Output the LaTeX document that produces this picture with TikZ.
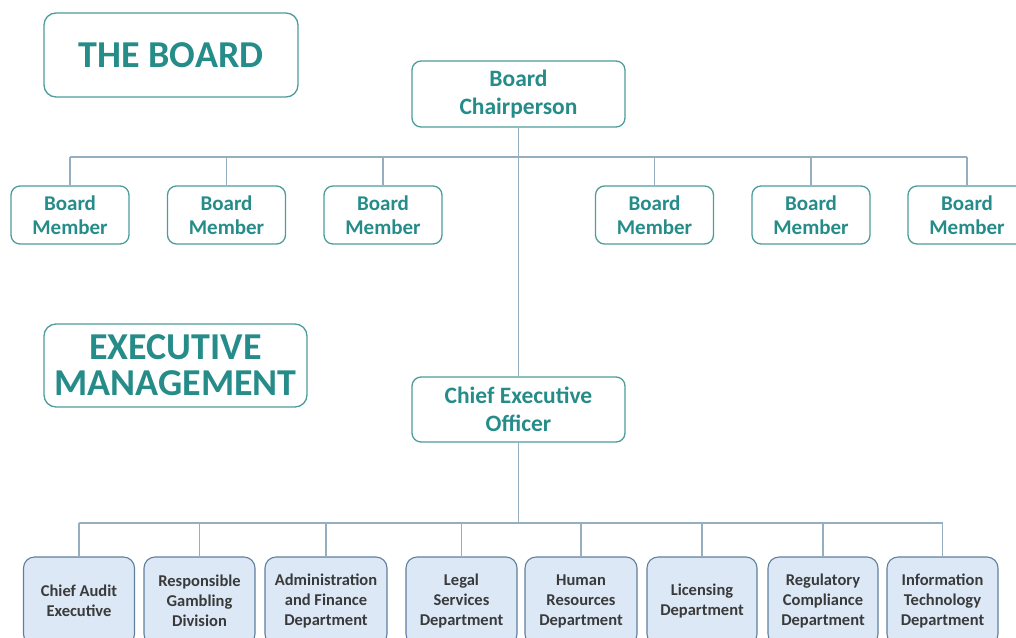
\documentclass[tikz,border=0pt]{standalone}
\usepackage{fontspec}
\setmainfont{Carlito}
\definecolor{tealt}{HTML}{268C89}
\definecolor{tealb}{HTML}{4C9C9B}
\definecolor{connc}{HTML}{95AFC0}
\definecolor{deptf}{HTML}{DCE8F6}
\definecolor{deptb}{HTML}{5F7F9C}
\definecolor{deptt}{HTML}{3A3A3A}
\begin{document}
\begin{tikzpicture}[x=1pt,y=-1pt,
  topbox/.style={draw=tealb, line width=1.3pt, rounded corners=9pt, text=tealt,
    font=\bfseries\fontsize{23.5}{28}\selectfont, align=center, inner sep=0pt},
  hdr/.style={topbox, font=\bfseries\fontsize{38}{36}\selectfont, rounded corners=12pt},
  member/.style={topbox, font=\bfseries\fontsize{21}{24}\selectfont, minimum width=118pt, minimum height=58pt},
  dept/.style={draw=deptb, fill=deptf, line width=1.1pt, rounded corners=11pt, text=deptt,
    font=\bfseries\fontsize{16.5}{20}\selectfont, align=center, inner sep=0pt, minimum height=88pt},
  conn/.style={draw=connc, line width=1.2pt}]
\useasboundingbox (0,0) rectangle (1016,637);
% headers
\node[hdr, minimum width=254pt, minimum height=84pt] (board) at (171,55) {THE BOARD};
\node[hdr, minimum width=263pt, minimum height=83pt] (exec) at (175.5,365.5) {EXECUTIVE\\MANAGEMENT};
% board
\node[topbox, minimum width=213pt, minimum height=66pt] (chair) at (518.5,94) {Board\\Chairperson};
\node[member] (m1) at (70,215) {Board\\Member};
\node[member] (m2) at (226.5,215) {Board\\Member};
\node[member] (m3) at (383,215) {Board\\Member};
\node[member] (m4) at (654.5,215) {Board\\Member};
\node[member] (m5) at (811,215) {Board\\Member};
\node[member] (m6) at (967,215) {Board\\Member};
% CEO
\node[topbox, minimum width=213pt, minimum height=65pt] (ceo) at (518.5,409.5) {Chief Executive\\Officer};
% departments
\node[dept, minimum width=111pt] (d1) at (79,601) {Chief Audit\\Executive};
\node[dept, minimum width=111pt] (d2) at (199.5,601) {Responsible\\Gambling\\Division};
\node[dept, minimum width=122pt] (d3) at (326,601) {Administration\\and Finance\\Department};
\node[dept, minimum width=111pt] (d4) at (461.5,601) {Legal\\Services\\Department};
\node[dept, minimum width=112pt] (d5) at (581,601) {Human\\Resources\\Department};
\node[dept, minimum width=110pt] (d6) at (702,601) {Licensing\\Department};
\node[dept, minimum width=110pt] (d7) at (823,601) {Regulatory\\Compliance\\Department};
\node[dept, minimum width=111pt] (d8) at (942.5,601) {Information\\Technology\\Department};
% connectors
\coordinate (bh) at (518.5,157);
\coordinate (dh) at (518.5,523);
\draw[conn] (chair.south) -- (ceo.north);
\draw[conn] (m1.north |- bh) -- (m6.north |- bh);
\foreach \m in {m1,m2,m3,m4,m5,m6} \draw[conn] (\m.north |- bh) -- (\m.north);
\draw[conn] (ceo.south) -- (dh);
\draw[conn] (d1.north |- dh) -- (d8.north |- dh);
\foreach \d in {d1,d2,d3,d4,d5,d6,d7,d8} \draw[conn] (\d.north |- dh) -- (\d.north);
\end{tikzpicture}
\end{document}
